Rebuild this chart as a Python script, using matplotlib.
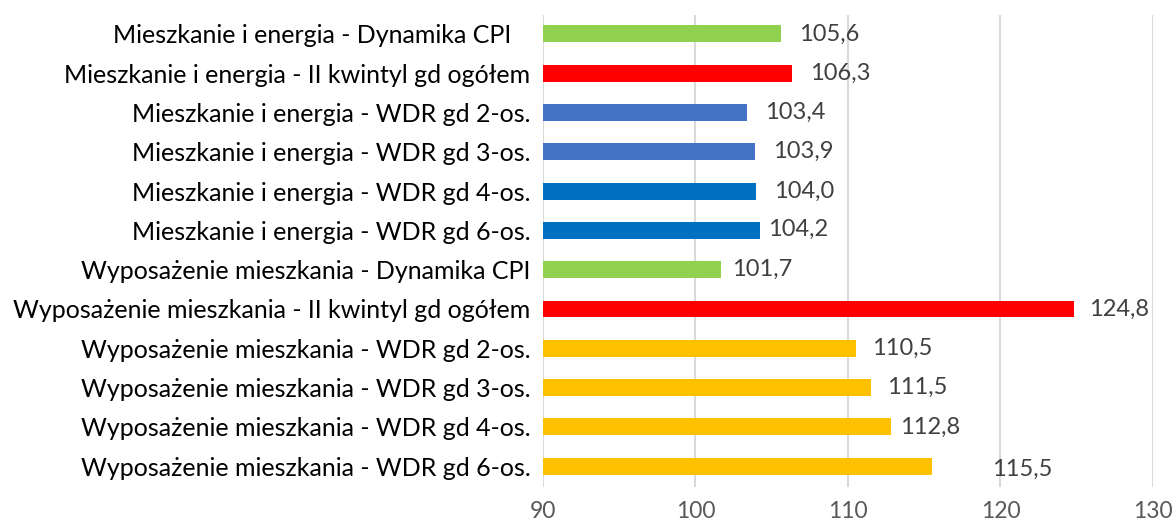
import matplotlib.pyplot as plt

categories = [
    "Mieszkanie i energia - Dynamika CPI   ",
    "Mieszkanie i energia - II kwintyl gd ogółem",
    "Mieszkanie i energia - WDR gd 2-os.",
    "Mieszkanie i energia - WDR gd 3-os.",
    "Mieszkanie i energia - WDR gd 4-os.",
    "Mieszkanie i energia - WDR gd 6-os.",
    "Wyposażenie mieszkania - Dynamika CPI",
    "Wyposażenie mieszkania - II kwintyl gd ogółem",
    "Wyposażenie mieszkania - WDR gd 2-os.",
    "Wyposażenie mieszkania - WDR gd 3-os.",
    "Wyposażenie mieszkania - WDR gd 4-os.",
    "Wyposażenie mieszkania - WDR gd 6-os.",
]
values = [105.6, 106.3, 103.4, 103.9, 104.0, 104.2, 101.7, 124.8, 110.5, 111.5, 112.8, 115.5]
colors = ["#92d050", "#ff0000", "#4472c4", "#4472c4", "#0070c0", "#0070c0",
          "#92d050", "#ff0000", "#ffc000", "#ffc000", "#ffc000", "#ffc000"]
# label offsets (points) as placed in the original
label_dx = [13, 13, 13, 13, 13, 6, 8, 11, 12, 12, 7, 43]
label_dy = [0, 0, 0, 0, 0, 1, 0, 0, 0, 0, 0, -2]

plt.rcParams['font.family'] = ['Lato', 'DejaVu Sans']

fig = plt.figure(figsize=(11.76, 5.26), dpi=100)
ax = fig.add_axes([0.4617, 0.0741, 0.5187, 0.8974])

pos = list(range(len(values)))
ax.barh(pos, [v - 90 for v in values], left=90, height=0.43, color=colors, zorder=3)

for p, v, dx, dy in zip(pos, values, label_dx, label_dy):
    ax.annotate(f"{v:.1f}".replace(".", ","), (v, p), xytext=(dx, dy),
                textcoords="offset points", va="center", ha="left",
                fontsize=17, color="#404040")

ax.set_xlim(90, 130)
ax.set_ylim(11.53, -0.48)
ax.set_xticks([90, 100, 110, 120, 130])
ax.set_yticks(pos)
ax.set_yticklabels(categories, fontsize=18, color="black")
ax.tick_params(axis="x", labelsize=16.5, labelcolor="#595959", length=0, pad=10)
ax.tick_params(axis="y", length=0, pad=9)
ax.grid(axis="x", color="#d9d9d9", linewidth=1.5, zorder=0)
for s in ax.spines.values():
    s.set_visible(False)

fig.savefig("out.png", dpi=100)
